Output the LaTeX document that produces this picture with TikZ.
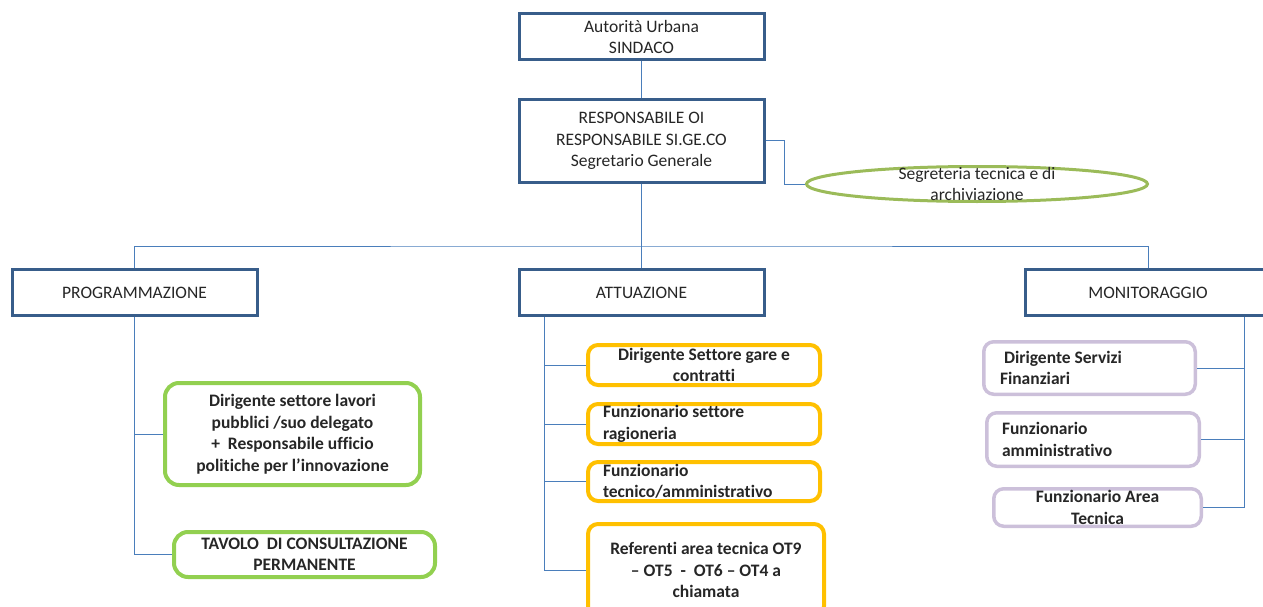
\documentclass[tikz,border=0pt]{standalone}
\usepackage{fontspec}
\setmainfont{Carlito}[Ligatures=NoCommon]
\usepackage{tikz}
\usetikzlibrary{positioning,shapes.geometric}
\definecolor{boxblue}{RGB}{56,93,138}
\definecolor{linkblue}{RGB}{74,126,187}
\definecolor{leafgreen}{RGB}{146,208,80}
\definecolor{ovalgreen}{RGB}{155,187,89}
\definecolor{amber}{RGB}{255,192,0}
\definecolor{lilac}{RGB}{204,192,218}
\definecolor{inkgray}{RGB}{38,38,38}
\newcommand{\chartfont}{\fontsize{17.5}{21.5}\selectfont}
\tikzset{
    bluebox/.style={draw=boxblue, line width=3pt, fill=white, inner sep=0pt,
        minimum width=245pt, minimum height=46pt, align=center},
    greenbox/.style={draw=leafgreen, line width=4pt, rounded corners=14pt,
        inner sep=0pt, align=center, font=\chartfont\bfseries},
    orangebox/.style={draw=amber, line width=4pt, rounded corners=10pt,
        inner sep=0pt, minimum width=232pt, minimum height=40pt, font=\chartfont\bfseries},
    lilacbox/.style={draw=lilac, line width=3.5pt, rounded corners=10pt,
        inner sep=0pt, font=\chartfont\bfseries},
    segoval/.style={draw=ovalgreen, line width=3pt, ellipse, inner sep=0pt,
        minimum width=341pt, minimum height=35pt},
    link/.style={draw=linkblue, line width=1pt}
}

\begin{document}
\begin{tikzpicture}[x=1pt, y=-1pt, font=\chartfont, text=inkgray]
\useasboundingbox (0,0) rectangle (1263,607);

% vertice
\node[bluebox] (sindaco) at (641.5,37) {Autorità Urbana\\SINDACO};

\node[
    bluebox,
    minimum height=83pt
] (resp) at (641.5,141) {RESPONSABILE OI\\RESPONSABILE SI.GE.CO\\Segretario Generale};

\node[segoval] (seg) at (977,184) {};
\node[align=center] (segtxt) at (seg.center) {Segreteria tecnica e di\\archiviazione};

% aree
\node[bluebox] (prog) at (134.5,292.5) {PROGRAMMAZIONE};
\node[bluebox] (att) at (641.5,292.5) {ATTUAZIONE};
\node[bluebox] (mon) at (1148,292.5) {MONITORAGGIO};

% programmazione
\node[
    greenbox,
    minimum width=255pt,
    minimum height=102pt
] (dirlp) at (292.5,434) {Dirigente settore lavori\\pubblici /suo delegato\\+\ \ Responsabile ufficio\\politiche per l’innovazione};

\node[
    greenbox,
    minimum width=261pt,
    minimum height=45pt
] (tavolo) at (304.5,554.5) {TAVOLO\ \ DI CONSULTAZIONE\\PERMANENTE};

% attuazione
\node[
    orangebox,
    align=center
] (gare) at (704,365) {Dirigente Settore gare e\\contratti};

\node[
    orangebox,
    text width=202pt,
    align=flush left,
    below=15pt of gare
] (ragion) {Funzionario settore\\ragioneria};

\node[
    orangebox,
    minimum height=39pt,
    text width=202pt,
    align=flush left,
    below=14pt of ragion
] (tecamm) {Funzionario\\tecnico/amministrativo};

\node[
    orangebox,
    minimum width=236pt,
    minimum height=92pt,
    align=center,
    below=19pt of tecamm,
    xshift=2pt
] (refot) {Referenti area tecnica OT9\\– OT5\ \ -\ \ OT6 – OT4 a\\chiamata};

% monitoraggio
\node[
    lilacbox,
    minimum width=211.5pt,
    minimum height=52.5pt,
    text width=179pt,
    align=flush left
] (dirfin) at (1089.5,368) {\hspace*{4pt}Dirigente Servizi\\Finanziari};

\node[
    lilacbox,
    minimum width=212.5pt,
    minimum height=53.5pt,
    text width=182pt,
    align=flush left
] (funamm) at (1093,439.5) {Funzionario\\amministrativo};

\node[
    lilacbox,
    minimum width=207.5pt,
    minimum height=37.5pt,
    align=center
] (funtec) at (1097.5,507.5) {Funzionario Area\\Tecnica};

% collegamenti
\coordinate (bus) at (641.5,246);
\draw[link] (sindaco) -- (resp);
\draw[link] (resp.east) -- ++(19,0) |- (seg.west);
\draw[link] (resp.south) -- (att.north);
\draw[link] (prog.north) |- (bus) -| (mon.north);

\draw[link] (prog.south) |- (tavolo.west);
\draw[link] (prog.south |- dirlp.west) -- (dirlp.west);

\coordinate (attspine) at ([xshift=27pt]att.south west);
\draw[link] (attspine) |- (refot.west);
\foreach \b in {gare,ragion,tecamm}
    \draw[link] (attspine |- \b.west) -- (\b.west);

\coordinate (monspine) at ([xshift=-28pt]mon.south east);
\draw[link] (monspine) |- (funtec.east);
\foreach \b in {dirfin,funamm}
    \draw[link] (monspine |- \b.east) -- (\b.east);
\end{tikzpicture}
\end{document}
